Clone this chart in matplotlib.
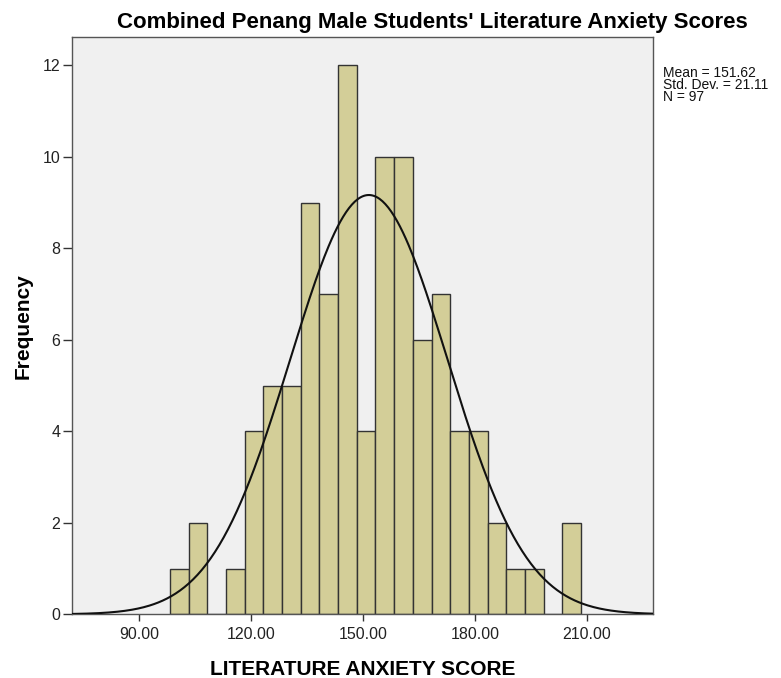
import numpy as np
import matplotlib
matplotlib.use("Agg")
import matplotlib.pyplot as plt

plt.rcParams['font.family'] = ['Liberation Sans', 'DejaVu Sans']

# histogram bins (width 5) and counts
bin_start = 98.4
bin_width = 5.0
counts = [1, 2, 0, 1, 4, 5, 5, 9, 7, 12, 4, 10, 10, 6, 7, 4, 4, 2, 1, 1, 0, 2]

mean = 151.62
std = 21.11
n = 97

x_ticks = [90, 120, 150, 180, 210]
y_ticks = [0, 2, 4, 6, 8, 10, 12]

title = "Combined Penang Male Students' Literature Anxiety Scores"
x_label = "LITERATURE ANXIETY SCORE"
y_label = "Frequency"

W, H = 781, 678
x_min, x_max = 72.2, 227.8
y_max = 12.62

fig = plt.figure(figsize=(W / 100, H / 100), dpi=100)
ax = fig.add_axes([72.3 / W, (H - 614.3) / H, 581 / W, 577.3 / H])
ax.set_facecolor('#F0F0F0')

lefts = bin_start + bin_width * np.arange(len(counts))
ax.bar(lefts, counts, width=bin_width, align='edge',
       color='#D3CE98', edgecolor='#333333', linewidth=1.0, zorder=2)

# normal curve scaled to the counts
xs = np.linspace(x_min, x_max, 400)
ys = n * bin_width * np.exp(-0.5 * ((xs - mean) / std) ** 2) / (std * np.sqrt(2 * np.pi))
ax.plot(xs, ys, color='#111111', linewidth=1.5, zorder=3)

ax.set_xlim(x_min, x_max)
ax.set_ylim(0, y_max)
ax.set_xticks(x_ticks)
ax.set_xticklabels([f"{v:.2f}" for v in x_ticks])
ax.set_yticks(y_ticks)
ax.tick_params(axis='both', labelsize=11.5, width=1, color='#333333',
               labelcolor='#222222')
ax.tick_params(axis='x', length=4.8, pad=4)
ax.tick_params(axis='y', length=6.5, pad=2)
for s in ax.spines.values():
    s.set_color('#555555')
    s.set_linewidth(1.0)

ax.set_xlabel(x_label, fontsize=15, fontweight='bold', va='baseline')
ax.xaxis.set_label_coords(0.5, -(675 - 614.3) / 577.3)
ax.set_ylabel(y_label, fontsize=15, fontweight='bold')
ax.yaxis.set_label_coords((33 - 72.3) / 581, 0.5)

fig.text(432.5 / W, 1 - 28 / H, title, fontsize=16, fontweight='bold',
         ha='center', va='baseline')

fig.text(663 / W, 1 - 66 / H,
         f"Mean = {mean:.2f}\nStd. Dev. = {std:.2f}\nN = {n}",
         fontsize=10, ha='left', va='top', linespacing=0.8, color='#111111')

fig.savefig("out.png", dpi=100)
